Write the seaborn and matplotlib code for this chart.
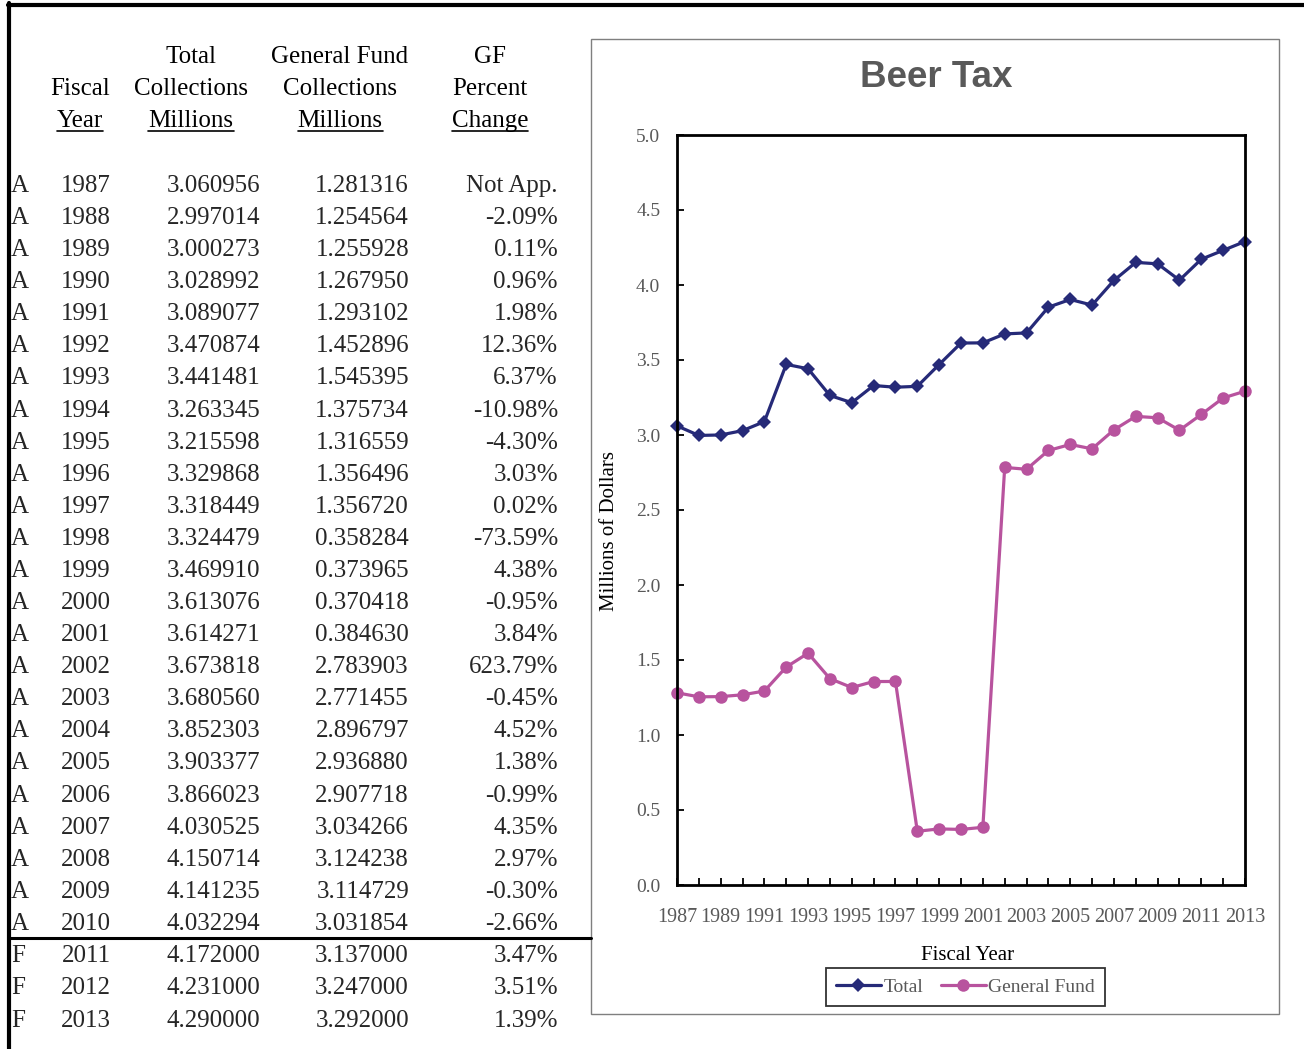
import matplotlib
matplotlib.use("Agg")
import matplotlib.pyplot as plt
from matplotlib.lines import Line2D
from matplotlib.patches import Rectangle
from matplotlib.ticker import MultipleLocator
import pandas as pd
import seaborn as sns

# ---- data ----
flags = ["A"] * 24 + ["F"] * 3
years = list(range(1987, 2014))
total = [3.060956, 2.997014, 3.000273, 3.028992, 3.089077, 3.470874, 3.441481,
         3.263345, 3.215598, 3.329868, 3.318449, 3.324479, 3.469910, 3.613076,
         3.614271, 3.673818, 3.680560, 3.852303, 3.903377, 3.866023, 4.030525,
         4.150714, 4.141235, 4.032294, 4.172000, 4.231000, 4.290000]
general_fund = [1.281316, 1.254564, 1.255928, 1.267950, 1.293102, 1.452896,
                1.545395, 1.375734, 1.316559, 1.356496, 1.356720, 0.358284,
                0.373965, 0.370418, 0.384630, 2.783903, 2.771455, 2.896797,
                2.936880, 2.907718, 3.034266, 3.124238, 3.114729, 3.031854,
                3.137000, 3.247000, 3.292000]
pct_change = ["Not App.", "-2.09%", "0.11%", "0.96%", "1.98%", "12.36%", "6.37%",
              "-10.98%", "-4.30%", "3.03%", "0.02%", "-73.59%", "4.38%", "-0.95%",
              "3.84%", "623.79%", "-0.45%", "4.52%", "1.38%", "-0.99%", "4.35%",
              "2.97%", "-0.30%", "-2.66%", "3.47%", "3.51%", "1.39%"]

NAVY = "#262A78"
MAGENTA = "#B8539E"
GRAY = "#595959"

sns.set_style("white")
plt.rcParams["font.family"] = ["Liberation Serif", "DejaVu Serif"]

W, H = 1304, 1049
fig = plt.figure(figsize=(W / 100, H / 100), dpi=100)


def fx(px):
    return px / W


def fy(py):
    return 1 - py / H


# ---- outer page border ----
fig.add_artist(Line2D([fx(8), 1.0], [fy(5), fy(5)], color="black", lw=3.0,
                      transform=fig.transFigure))
fig.add_artist(Line2D([fx(9), fx(9)], [fy(3), 0.0], color="black", lw=3.0,
                      transform=fig.transFigure))

# ---- table ----
TS = 18
header_rows = [
    [(80, ""), (191, "Total"), (340, "General Fund"), (490, "GF")],
    [(80, "Fiscal"), (191, "Collections"), (340, "Collections"), (490, "Percent")],
    [(80, "Year"), (191, "Millions"), (340, "Millions"), (490, "Change")],
]
header_base = [63, 95, 127]
underline_texts = []
for r, row in enumerate(header_rows):
    for cx, txt in row:
        if not txt:
            continue
        t = fig.text(fx(cx), fy(header_base[r]), txt, ha="center", va="baseline",
                     fontsize=TS, color="black")
        if r == 2:
            underline_texts.append(t)

row_base = [192 + 32.08 * i for i in range(24)] + [962, 994, 1027]
for i in range(len(years)):
    yb = fy(row_base[i])
    fig.text(fx(11), yb, flags[i], ha="left", va="baseline", fontsize=TS)
    fig.text(fx(86), yb, str(years[i]), ha="center", va="baseline", fontsize=TS)
    fig.text(fx(260), yb, f"{total[i]:.6f}", ha="right", va="baseline", fontsize=TS)
    fig.text(fx(409), yb, f"{general_fund[i]:.6f}", ha="right", va="baseline", fontsize=TS)
    fig.text(fx(558), yb, pct_change[i], ha="right", va="baseline", fontsize=TS)

# rule between actual and forecast years
fig.add_artist(Line2D([fx(9), fx(591)], [fy(938), fy(938)], color="black", lw=2.2,
                      transform=fig.transFigure))

# ---- chart frame ----
fig.add_artist(Rectangle((fx(591), fy(1014)), fx(1279) - fx(591), fy(39) - fy(1014),
                         transform=fig.transFigure, fill=False, edgecolor="#7f7f7f",
                         lw=1.0))

fig.text(fx(936), fy(87), "Beer Tax", ha="center", va="baseline", fontsize=26.5,
         fontweight="bold", color=GRAY, family=["Liberation Sans", "DejaVu Sans"])

ax = fig.add_axes([fx(677), fy(885), fx(1245) - fx(677), fy(135) - fy(885)])

df_total = pd.DataFrame({"Fiscal Year": years, "Millions": total})
df_gf = pd.DataFrame({"Fiscal Year": years, "Millions": general_fund})

sns.lineplot(data=df_total, x="Fiscal Year", y="Millions", ax=ax, color=NAVY,
             marker="D", markersize=6.8, markeredgewidth=0, lw=2.3, label="Total",
             clip_on=False)
sns.lineplot(data=df_gf, x="Fiscal Year", y="Millions", ax=ax, color=MAGENTA,
             marker="o", markersize=9, markeredgewidth=0, lw=2.3, label="General Fund",
             clip_on=False)

ax.set_xlim(1987, 2013)
ax.set_ylim(0, 5)
ax.xaxis.set_minor_locator(MultipleLocator(1))
ax.yaxis.set_major_locator(MultipleLocator(0.5))
ax.set_xticks(range(1987, 2014, 2))
ax.yaxis.set_major_formatter(plt.FuncFormatter(lambda v, p: f"{v:.1f}"))

ax.tick_params(axis="x", which="both", direction="in", length=5, width=1.3,
               color="black", bottom=True, top=False, labelsize=14.5,
               labelcolor=GRAY, pad=16.5)
ax.tick_params(axis="y", which="major", direction="in", length=5, width=1.3,
               color="black", left=True, right=False, labelsize=14,
               labelcolor=GRAY, pad=12)
for s in ax.spines.values():
    s.set_visible(True)
    s.set_color("black")
    s.set_linewidth(2.0)

ax.set_xlabel("Fiscal Year", fontsize=15, color="black")
ax.xaxis.set_label_coords(0.511, -0.081)
ax.set_ylabel("Millions of Dollars", fontsize=15, color="black")
ax.yaxis.set_label_coords(-0.102, 0.472)

leg = ax.legend(loc="center", bbox_to_anchor=(0.508, -0.136), ncol=2,
                fontsize=14, frameon=True, fancybox=False, edgecolor="black",
                handlelength=2.3, handletextpad=0.15, columnspacing=0.9,
                borderpad=0.5, borderaxespad=0)
leg.get_frame().set_linewidth(1.3)
for t in leg.get_texts():
    t.set_color(GRAY)

# underline the last header row
fig.canvas.draw()
renderer = fig.canvas.get_renderer()
inv = fig.transFigure.inverted()
for t in underline_texts:
    bb = t.get_window_extent(renderer)
    (x0, _), (x1, _) = inv.transform([(bb.x0, 0), (bb.x1, 0)])
    fig.add_artist(Line2D([x0, x1], [fy(131.5), fy(131.5)], color="black", lw=1.2,
                          transform=fig.transFigure))

fig.savefig("out.png", dpi=100)
